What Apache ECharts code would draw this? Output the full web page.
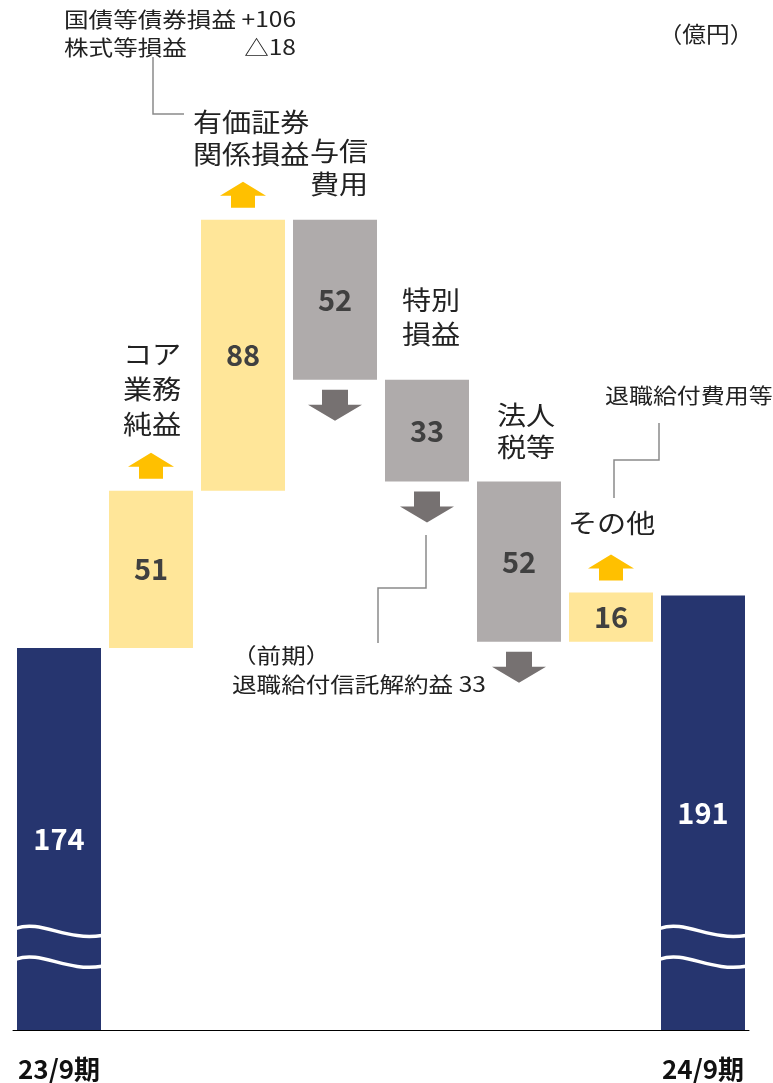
<!DOCTYPE html>
<html><head><meta charset="utf-8">
<script src="https://cdn.jsdelivr.net/npm/echarts@6/dist/echarts.min.js"></script>
<style>html,body{margin:0;padding:0;background:#fff}#c{width:773px;height:1083px}</style>
</head><body><div id="c"></div>
<script>
// ---- data ----
const categories = ['23/9期','コア業務純益','有価証券関係損益','与信費用','特別損益','法人税等','その他','24/9期'];
const axisLabels = ['23/9期','','','','','','','24/9期'];
const deltas = [174, 51, 88, -52, -33, -52, 16, 191];
const kinds = ['total','up','up','down','down','down','up','total'];
const breakValues = [82, 72];
const unitLabel = '（億円）';

// ---- derived waterfall layout ----
const baseVals = [], showVals = [], arrowData = [], waveData = [];
let running = 0;
deltas.forEach((d, i) => {
  const k = kinds[i];
  if (k === 'total') { baseVals.push(0); showVals.push(d); running = d;
    breakValues.forEach(b => waveData.push([i, b])); }
  else if (k === 'up') { baseVals.push(running); showVals.push(d); running += d; arrowData.push([i, running, 1]); }
  else { running += d; baseVals.push(running); showVals.push(-d); arrowData.push([i, running, -1]); }
});

const FONT = '"Noto Sans CJK JP", "Noto Sans", sans-serif';
const colorOf = { total: '#26356F', up: '#FFE699', down: '#AFABAB' };
const labelColorOf = { total: '#FFFFFF', up: '#404040', down: '#404040' };
const BAR_W = 84;

const chart = echarts.init(document.getElementById('c'));

function txt(s, x, y, fs, align, sx) {
  return { type: 'text', x: x, y: y, scaleX: sx || 1.12, silent: true,
    style: { text: s, fontSize: fs, fontFamily: FONT, fill: '#222', textAlign: align || 'left', textVerticalAlign: 'middle' } };
}
function block(lines, x, y0, lh, fs, align) {
  return lines.map((s, j) => txt(s, x, y0 + j * lh, fs, align));
}
function line(pts) {
  return { type: 'polyline', silent: true, shape: { points: pts }, style: { stroke: '#8A8A8A', lineWidth: 1.5, fill: null } };
}
const SS = 1.17;

const graphics = [].concat(
  [txt('国債等債券損益 +106', 64, 19, 21, 'left', SS), txt('株式等損益', 64, 47, 21, 'left', SS), txt('△18', 296, 47, 21, 'right', SS)],
  [txt(unitLabel, 706, 34, 22, 'center', 1.08)],
  block(['有価証券', '関係損益'], 193, 122, 32, 26),
  block(['与信', '費用'], 310, 151, 33, 26),
  block(['コア', '業務', '純益'], 152, 354, 35, 26, 'center'),
  block(['特別', '損益'], 402, 300, 34, 26),
  block(['法人', '税等'], 497, 415, 32, 26),
  [txt('その他', 568, 523, 26)],
  [txt('退職給付費用等', 605, 395, 21, 'left', 1.14)],
  [txt('（前期）', 232, 655, 21, 'left', SS), txt('退職給付信託解約益 33', 232, 684, 21, 'left', SS)],
  [line([[153,57],[153,114],[184,114]]),
   line([[426,535],[426,588],[378,588],[378,643]]),
   line([[659,423],[659,460],[614,460],[614,498]])]
);

chart.setOption({
  animation: false,
  grid: { left: 13, right: 24, top: 44, bottom: 53, containLabel: false },
  xAxis: {
    type: 'category', data: categories,
    axisLine: { lineStyle: { color: '#000', width: 1 } },
    axisTick: { show: false },
    axisLabel: { interval: 0, margin: 26, fontSize: 26, fontWeight: 'bold', color: '#111', fontFamily: FONT,
      formatter: (v, i) => axisLabels[i] }
  },
  yAxis: { type: 'value', min: 50, max: 370, show: false, splitLine: { show: false } },
  graphic: graphics,
  series: [
    { type: 'bar', stack: 'w', data: baseVals, barWidth: BAR_W, silent: true, clip: true,
      itemStyle: { color: 'rgba(0,0,0,0)' } },
    { type: 'bar', stack: 'w', barWidth: BAR_W, clip: true,
      data: showVals.map((v, i) => ({ value: v, itemStyle: { color: colorOf[kinds[i]] },
        label: { color: labelColorOf[kinds[i]] } })),
      label: { show: true, position: 'inside', fontSize: 29, fontWeight: 'bold', fontFamily: FONT,
        formatter: p => String(Math.abs(deltas[p.dataIndex])) } },
    { type: 'custom', data: arrowData, silent: true, z: 5,
      renderItem: (params, api) => {
        const p = api.coord([api.value(0), api.value(1)]);
        const dir = api.value(2);
        const x = p[0];
        if (dir > 0) {
          const b = p[1] - 12, hw = 23, sw = 12, sh = 12, hh = 14;
          return { type: 'polygon', shape: { points: [[x-sw,b],[x+sw,b],[x+sw,b-sh],[x+hw,b-sh],[x,b-sh-hh],[x-hw,b-sh],[x-sw,b-sh]] },
            style: { fill: '#FFC000' } };
        } else {
          const t = p[1] + 10, hw = 27, sw = 13, sh = 15, hh = 16;
          return { type: 'polygon', shape: { points: [[x-sw,t],[x+sw,t],[x+sw,t+sh],[x+hw,t+sh],[x,t+sh+hh],[x-hw,t+sh],[x-sw,t+sh]] },
            style: { fill: '#767171' } };
        }
      } },
    { type: 'custom', data: waveData, silent: true, z: 6, clip: false,
      renderItem: (params, api) => {
        const c = api.coord([api.value(0), api.value(1)]);
        const L = c[0] - BAR_W / 2 - 1, R = c[0] + BAR_W / 2 + 1, y = c[1] - 3;
        return { type: 'bezierCurve',
          shape: { x1: L, y1: y, cpx1: L + BAR_W * 0.3, cpy1: y - 9, cpx2: L + BAR_W * 0.6, cpy2: y + 13, x2: R, y2: y + 7 },
          style: { stroke: '#FFFFFF', lineWidth: 3.5, fill: null } };
      } }
  ]
});
</script></body></html>
